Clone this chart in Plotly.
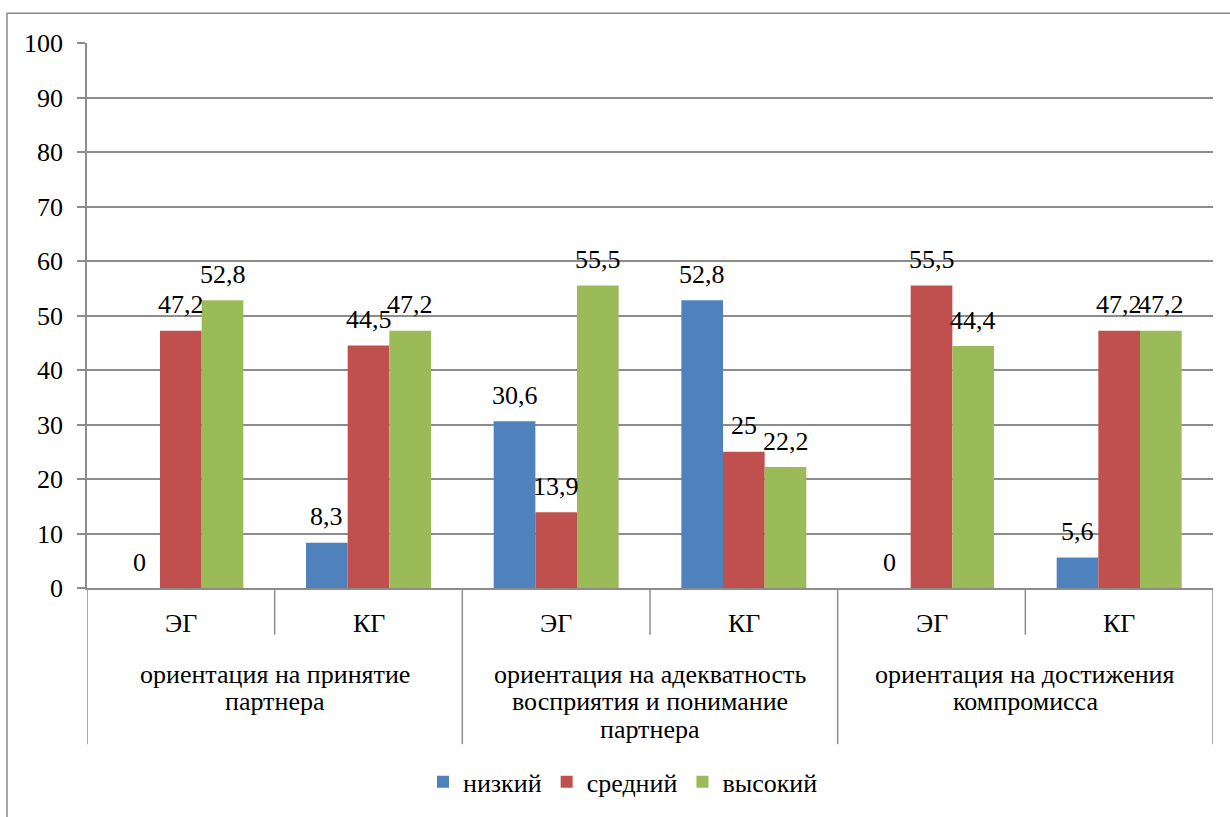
import plotly.graph_objects as go

# ---- data -------------------------------------------------------------
groups = ["ЭГ", "КГ", "ЭГ", "КГ", "ЭГ", "КГ"]
scales = [
    ["ориентация на принятие", "партнера"],
    ["ориентация на адекватность", "восприятия и понимание", "партнера"],
    ["ориентация на достижения", "компромисса"],
]
levels = ["низкий", "средний", "высокий"]
low = [0, 8.3, 30.6, 52.8, 0, 5.6]
mid = [47.2, 44.5, 13.9, 25, 55.5, 47.2]
high = [52.8, 47.2, 55.5, 22.2, 44.4, 47.2]
y_ticks = list(range(0, 101, 10))

# ---- styling ----------------------------------------------------------
colors = ["#4F81BD", "#C0504D", "#9BBB59"]
FONT = "Liberation Serif"
FS = 26
GRID = "#8C8C8C"
W, H = 1230, 817
ML, MR, MT, MB = 87, 17, 43, 226
PH = H - MT - MB
PW = W - ML - MR
BARGAP = 0.334


def py(pixel_y):
    """Page pixel row -> paper y coordinate."""
    return (H - MB - pixel_y) / PH


def px(pixel_x):
    """Page pixel column -> paper x coordinate."""
    return (pixel_x - ML) / PW


def txt(size=FS):
    return dict(family=FONT, size=size, color="black")


xs = list(range(len(groups)))
series = [low, mid, high]

fig = go.Figure()
for name, vals, col in zip(levels, series, colors):
    fig.add_trace(go.Bar(
        x=xs, y=vals, name=name, marker=dict(color=col, line=dict(width=0)),
        hoverinfo="skip",
    ))

annotations = []

# value labels above each bar
bw = (1 - BARGAP) / len(series)
for k, vals in enumerate(series):
    for i, v in enumerate(vals):
        annotations.append(dict(
            x=i + (k - 1) * bw, y=v, xref="x", yref="y",
            text=f"{v:g}".replace(".", ","), showarrow=False,
            yanchor="middle", yshift=26, font=txt(),
        ))

# inner category labels (group)
for i, g in enumerate(groups):
    annotations.append(dict(
        x=i, y=0, xref="x", yref="paper", text=g, showarrow=False,
        yanchor="middle", yshift=-35, font=txt(),
    ))

# outer category labels, one annotation per line for tight leading
LEAD = 27.5
for j, lines in enumerate(scales):
    for n, line in enumerate(lines):
        annotations.append(dict(
            x=2 * j + 0.5, y=0, xref="x", yref="paper", text=line,
            showarrow=False, yanchor="middle", yshift=-(86 + n * LEAD),
            font=txt(),
        ))

shapes = []
# chart frame
shapes.append(dict(
    type="rect", xref="paper", yref="paper",
    x0=px(7), x1=px(1260), y0=py(840), y1=py(13),
    line=dict(color="#8A8A8A", width=1.5), fillcolor="rgba(0,0,0,0)",
    layer="below",
))
# category dividers below the axis
for b in range(len(groups) + 1):
    xb = b - 0.5
    bottom = 638 if b % 2 == 1 else 748
    shapes.append(dict(
        type="line", xref="x", yref="paper", x0=xb, x1=xb,
        y0=0, y1=py(bottom), line=dict(color=GRID, width=1.5),
    ))

fig.update_layout(
    width=W, height=H,
    margin=dict(l=ML, r=MR, t=MT, b=MB, pad=0),
    paper_bgcolor="white", plot_bgcolor="white",
    barmode="group", bargap=BARGAP, bargroupgap=0,
    showlegend=True,
    legend=dict(
        orientation="h", x=px(623), xanchor="center", y=py(786), yanchor="middle",
        font=txt(), itemclick=False, itemdoubleclick=False,
    ),
    annotations=annotations,
    shapes=shapes,
)
fig.update_xaxes(
    range=[-0.5, len(groups) - 0.5], showticklabels=False, ticks="",
    showgrid=False, zeroline=False, showline=True, linecolor=GRID, linewidth=1.5,
    fixedrange=True,
)
fig.update_yaxes(
    range=[0, 100], tickvals=y_ticks, ticktext=[str(t) for t in y_ticks],
    showgrid=True, gridcolor=GRID, gridwidth=1.5, zeroline=False,
    showline=True, linecolor=GRID, linewidth=1.5,
    ticks="outside", ticklen=8, tickcolor=GRID, tickwidth=1.5,
    ticklabelstandoff=9, tickfont=txt(),
    fixedrange=True,
)

fig.write_html("out.html")
